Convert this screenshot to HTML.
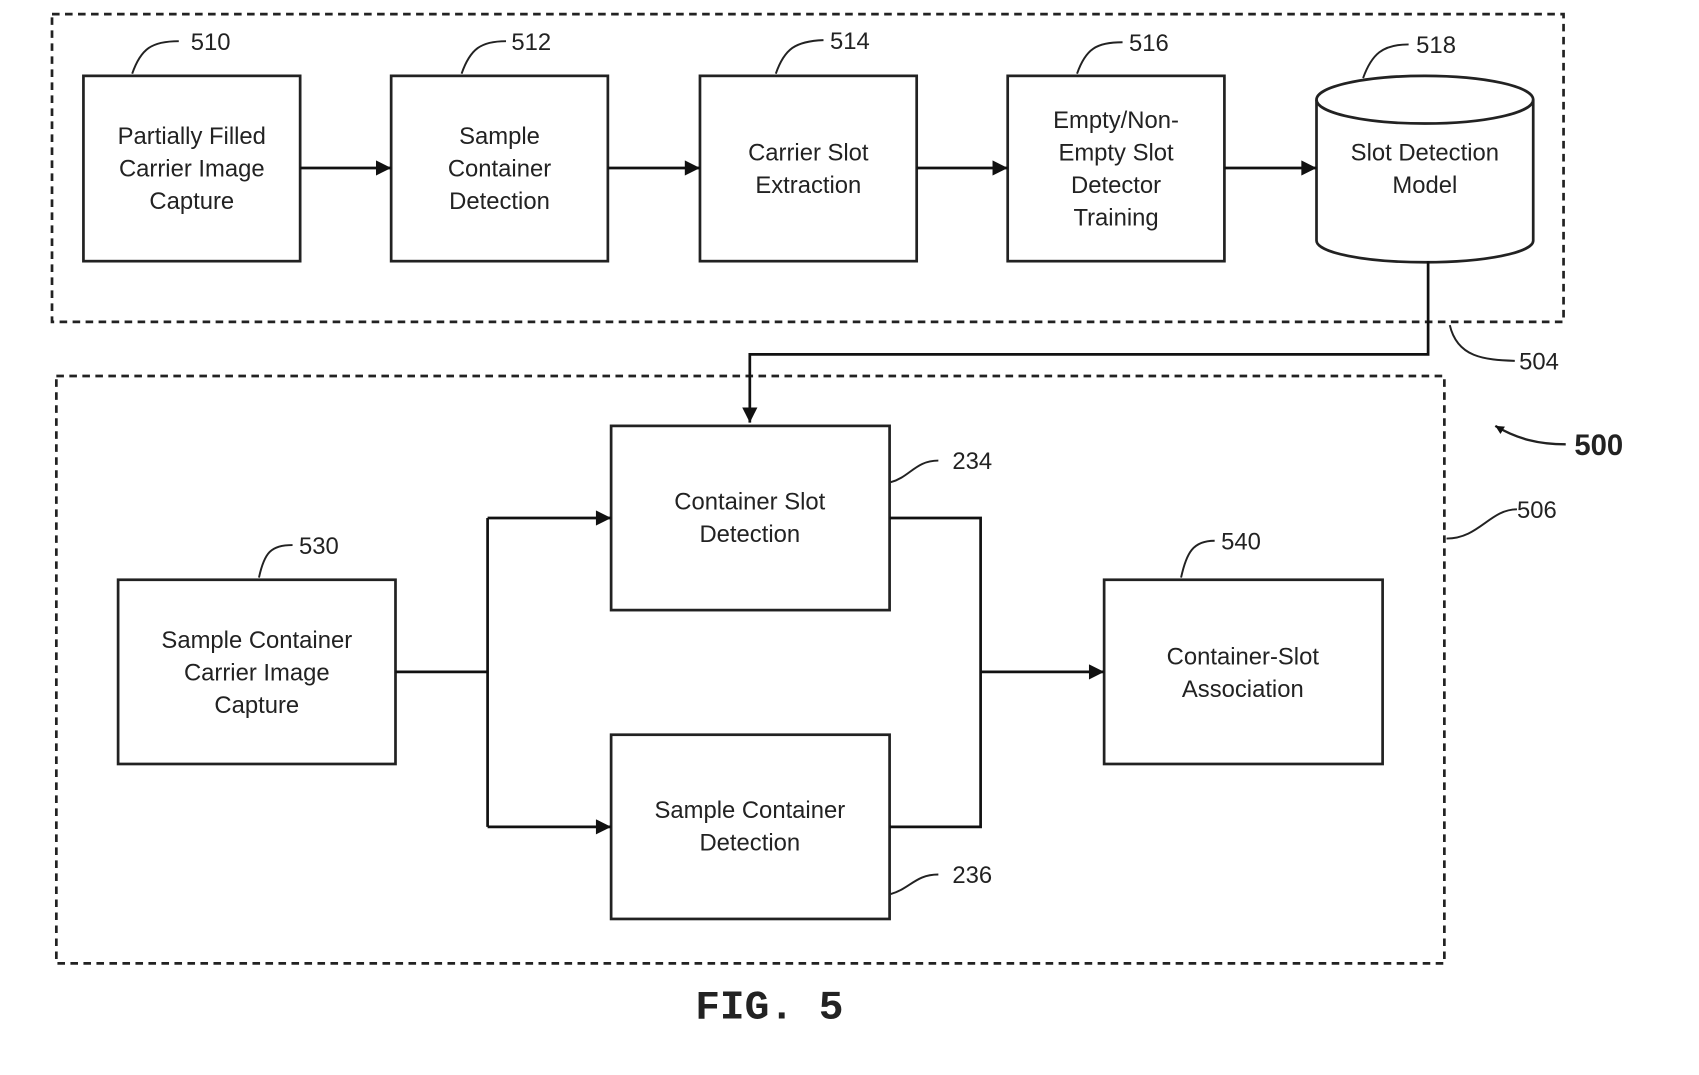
<!DOCTYPE html>
<html><head><meta charset="utf-8"><style>
html,body{margin:0;padding:0;background:#fff;width:1699px;height:1075px;overflow:hidden}
svg{display:block}
text{font-family:"Liberation Sans",sans-serif;fill:#222}
</style></head><body>
<svg width="1699" height="1075" viewBox="0 0 1568 992" preserveAspectRatio="none" xmlns="http://www.w3.org/2000/svg">
<defs><marker id="a" viewBox="0 0 10 10" refX="10" refY="5" markerWidth="8" markerHeight="8" markerUnits="userSpaceOnUse" orient="auto"><path d="M0,0 L10,5 L0,10 z" fill="#111"/></marker>
<marker id="b" viewBox="0 0 10 10" refX="10" refY="5" markerWidth="20" markerHeight="14" markerUnits="userSpaceOnUse" orient="auto"><path d="M0,0 L10,5 L0,10 z" fill="#111"/></marker></defs>
<g fill="none" stroke="#222" stroke-width="2.5">
<rect x="48" y="13" width="1395" height="284" stroke-dasharray="7,5"/>
<rect x="52" y="347" width="1281" height="542" stroke-dasharray="7,5"/>
<rect x="77" y="70" width="200" height="171"/>
<rect x="361" y="70" width="200" height="171"/>
<rect x="646" y="70" width="200" height="171"/>
<rect x="930" y="70" width="200" height="171"/>
<path d="M1215,92 L1215,222 A100,20 0 0 0 1415,222 L1415,92"/>
<ellipse cx="1315" cy="92" rx="100" ry="22"/>
<rect x="564" y="393" width="257" height="170"/>
<rect x="564" y="678" width="257" height="170"/>
<rect x="109" y="535" width="256" height="170"/>
<rect x="1019" y="535" width="257" height="170"/>
</g>
<g fill="none" stroke="#111" stroke-width="2.5">
<line x1="277" y1="155" x2="361" y2="155" marker-end="url(#b)"/>
<line x1="561" y1="155" x2="646" y2="155" marker-end="url(#b)"/>
<line x1="846" y1="155" x2="930" y2="155" marker-end="url(#b)"/>
<line x1="1130" y1="155" x2="1215" y2="155" marker-end="url(#b)"/>
<polyline points="1318,241 1318,327 692,327 692,390" marker-end="url(#b)"/>
<line x1="365" y1="620" x2="450" y2="620"/>
<line x1="450" y1="478" x2="450" y2="763"/>
<line x1="450" y1="478" x2="564" y2="478" marker-end="url(#b)"/>
<line x1="450" y1="763" x2="564" y2="763" marker-end="url(#b)"/>
<polyline points="821,478 905,478 905,763 821,763"/>
<line x1="905" y1="620" x2="1019" y2="620" marker-end="url(#b)"/>
</g>
<g fill="none" stroke="#222" stroke-width="1.8">
<path d="M122,68 C130,45 140,38 165,38"/>
<path d="M426,68 C434,45 444,38 467,38"/>
<path d="M716,68 C724,45 734,38 760,37"/>
<path d="M994,68 C1002,45 1012,39 1036,39"/>
<path d="M1258,72 C1266,50 1276,41 1300,41"/>
<path d="M822,445 C840,440 845,425 866,425"/>
<path d="M822,825 C840,820 845,807 866,807"/>
<path d="M239,533 C244,510 250,503 270,503"/>
<path d="M1090,533 C1095,510 1101,499 1121,499"/>
<path d="M1338,300 C1345,330 1370,332 1398,333"/>
<path d="M1335,497 C1365,497 1375,470 1400,470"/>
<path d="M1445,410 C1420,410 1400,405 1380,393" stroke-width="2.2" marker-end="url(#a)"/>
</g>
<g font-size="22" text-anchor="middle">
<text x="177" y="133">Partially Filled</text><text x="177" y="163">Carrier Image</text><text x="177" y="193">Capture</text>
<text x="461" y="133">Sample</text><text x="461" y="163">Container</text><text x="461" y="193">Detection</text>
<text x="746" y="148">Carrier Slot</text><text x="746" y="178">Extraction</text>
<text x="1030" y="118">Empty/Non-</text><text x="1030" y="148">Empty Slot</text><text x="1030" y="178">Detector</text><text x="1030" y="208">Training</text>
<text x="1315" y="148">Slot Detection</text><text x="1315" y="178">Model</text>
<text x="692" y="470">Container Slot</text><text x="692" y="500">Detection</text>
<text x="692" y="755">Sample Container</text><text x="692" y="785">Detection</text>
<text x="237" y="598">Sample Container</text><text x="237" y="628">Carrier Image</text><text x="237" y="658">Capture</text>
<text x="1147" y="613">Container-Slot</text><text x="1147" y="643">Association</text>
</g>
<g font-size="22">
<text x="176" y="46">510</text><text x="472" y="46">512</text><text x="766" y="45">514</text>
<text x="1042" y="47">516</text><text x="1307" y="49">518</text>
<text x="879" y="433">234</text><text x="879" y="815">236</text>
<text x="276" y="511">530</text><text x="1127" y="507">540</text>
<text x="1402" y="341">504</text><text x="1400" y="478">506</text>
<text x="1453" y="420" font-size="27" font-weight="bold">500</text>
</g>
<text x="710" y="940" text-anchor="middle" font-size="38" font-weight="bold" style='font-family:"Liberation Mono",monospace'>FIG. 5</text>
</svg>
</body></html>
